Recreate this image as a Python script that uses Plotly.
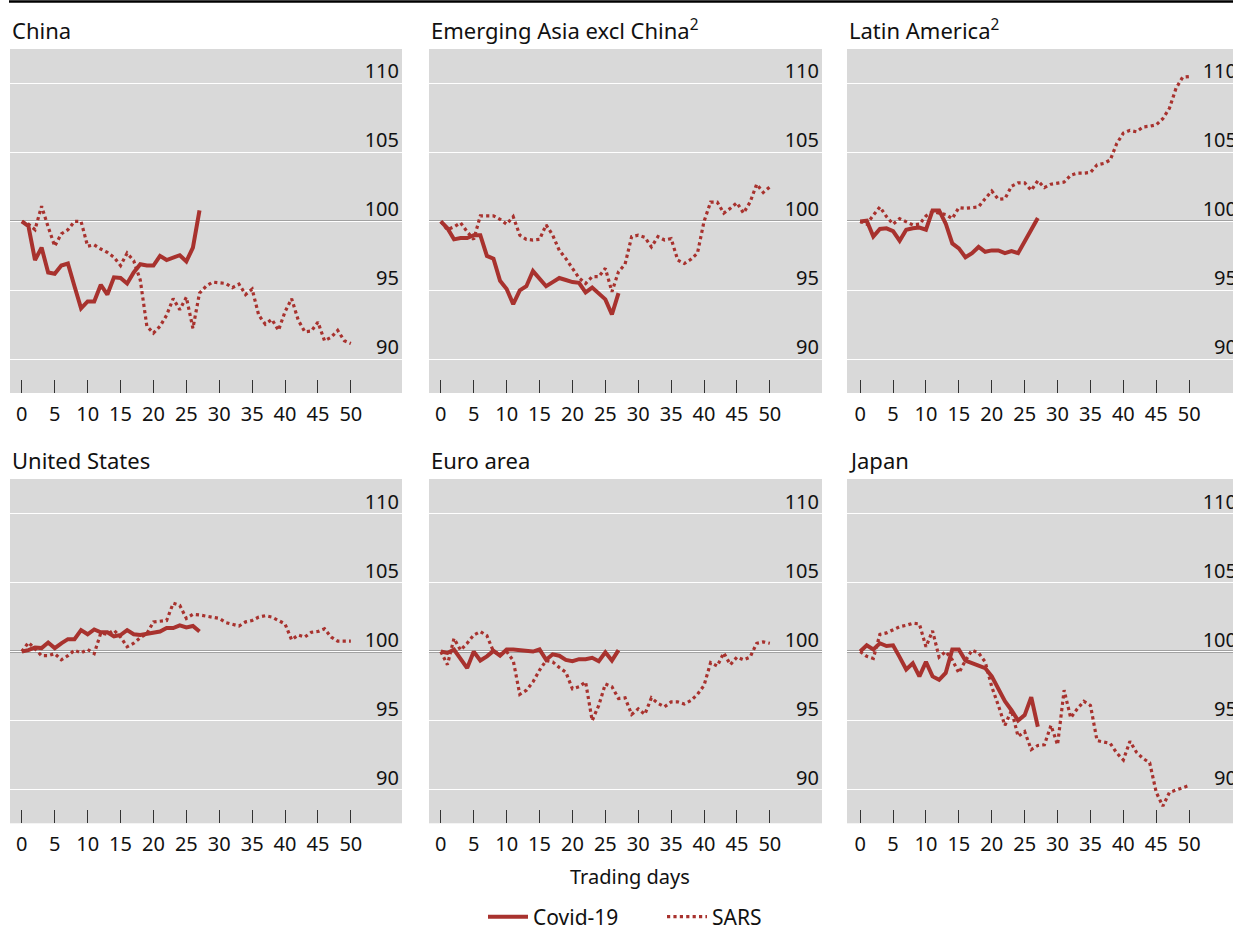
import plotly.graph_objects as go

# ---------------- data ----------------
days_covid = list(range(28))
days_sars = list(range(51))

titles = ["China", "Emerging Asia excl China<sup>2</sup>", "Latin America<sup>2</sup>",
          "United States", "Euro area", "Japan"]

china_covid = [100, 99.66, 97.2, 98.1, 96.3, 96.2, 96.8, 96.95, 95.3, 93.7, 94.2, 94.2, 95.4, 94.7,
               95.95, 95.9, 95.5, 96.3, 96.9, 96.8, 96.8, 97.5, 97.2, 97.4, 97.55, 97.1, 98.1, 100.8]
china_sars = [100, 99.8, 99.4, 101.1, 99.6, 98.2, 99.1, 99.4, 100, 100, 98.2, 98.3, 98.0, 97.75,
              97.4, 96.8, 97.7, 97.15, 95.75, 92.4, 91.9, 92.4, 93.2, 94.4, 93.6, 94.5, 92.25, 94.8,
              95.3, 95.6, 95.55, 95.5, 95.2, 95.45, 94.7, 95.1, 93.2, 92.55, 92.9, 92.1, 93.45,
              94.4, 92.85, 92.0, 92.05, 92.7, 91.35, 91.6, 92.1, 91.35, 91.15]

asia_covid = [100, 99.5, 98.7, 98.8, 98.8, 99.0, 99.0, 97.5, 97.3, 95.7, 95.1, 94.0, 95.0, 95.3,
              96.4, 95.9, 95.3, 95.6, 95.9, 95.75, 95.6, 95.55, 94.85, 95.2, 94.8, 94.35, 93.25, 94.8]
asia_sars = [100, 99.4, 99.6, 99.9, 99.25, 98.7, 100.4, 100.4, 100.4, 100.15, 99.8, 100.35, 99.0,
             98.7, 98.65, 98.7, 99.75, 99.0, 97.9, 97.3, 96.6, 95.9, 95.5, 96.0, 96.0, 96.6, 94.9,
             96.35, 96.9, 98.9, 99.0, 98.85, 98.15, 98.9, 98.65, 98.75, 97.2, 96.95, 97.25, 97.7,
             100, 101.4, 101.4, 100.6, 100.95, 101.35, 100.6, 101.4, 102.7, 102.1, 102.5]

latam_covid = [100, 100.05, 98.9, 99.45, 99.5, 99.3, 98.6, 99.4, 99.5, 99.55, 99.4, 100.8, 100.8,
               99.85, 98.4, 98.05, 97.4, 97.7, 98.15, 97.8, 97.9, 97.9, 97.7, 97.85, 97.7, 98.5,
               99.4, 100.25]
latam_sars = [100, 99.8, 100.45, 101.05, 100.35, 99.8, 100.2, 100, 99.75, 99.8, 100.4, 100.7, 100.6,
              100.5, 100.2, 101.0, 100.95, 101.0, 101.05, 101.65, 102.2, 101.6, 101.65, 102.55,
              102.8, 102.8, 102.25, 102.95, 102.45, 102.7, 102.8, 102.85, 103.35, 103.5, 103.5,
              103.55, 104.1, 104.2, 104.45, 105.65, 106.4, 106.6, 106.5, 106.85, 106.9, 107.0,
              107.45, 108.2, 109.65, 110.45, 110.5]

us_covid = [100, 100.1, 100.3, 100.25, 100.65, 100.25, 100.6, 100.9, 100.9, 101.55, 101.25, 101.6,
            101.4, 101.4, 101.1, 101.2, 101.55, 101.25, 101.2, 101.3, 101.4, 101.45, 101.7, 101.7,
            101.9, 101.75, 101.85, 101.45]
us_sars = [100, 100.65, 100.2, 99.7, 99.7, 99.85, 99.4, 99.7, 100.1, 99.9, 100.15, 99.85, 101.35,
           101.25, 101.55, 101.05, 100.35, 100.6, 101.0, 101.3, 102.15, 102.2, 102.25, 103.5, 103.35,
           102.4, 102.7, 102.65, 102.55, 102.45, 102.4, 102.1, 102.0, 101.85, 102.15, 102.25, 102.5,
           102.6, 102.5, 102.25, 102.0, 100.85, 101.2, 101.05, 101.4, 101.45, 101.65, 101.05,
           100.75, 100.75, 100.75]

euro_covid = [100, 99.9, 100.15, 99.5, 98.8, 100, 99.35, 99.65, 100.05, 99.7, 100.15, 100.15, 100.1,
              100.1, 100, 100.15, 99.4, 99.8, 99.7, 99.4, 99.3, 99.45, 99.45, 99.55, 99.3, 99.95,
              99.35, 100.1]
euro_sars = [100, 99.05, 100.95, 100.1, 100.6, 101.2, 101.45, 101.15, 100, 99.8, 100, 99.35, 96.9,
             97.2, 97.8, 98.65, 99.35, 99.25, 98.85, 98.5, 97.3, 97.45, 97.8, 95.0, 96.1, 97.65,
             97.45, 96.6, 96.65, 95.45, 95.85, 95.45, 96.65, 96.25, 96.0, 96.35, 96.35, 96.2, 96.45,
             96.9, 97.55, 99.2, 98.95, 99.9, 99.05, 99.6, 99.4, 99.6, 100.6, 100.7, 100.6]

japan_covid = [100, 100.45, 100.15, 100.6, 100.4, 100.45, 99.6, 98.7, 99.15, 98.2, 99.25, 98.2,
               97.95, 98.45, 100.15, 100.15, 99.35, 99.15, 98.95, 98.8, 98.2, 97.25, 96.4, 95.75,
               95.0, 95.4, 96.7, 94.55]
japan_sars = [100, 99.65, 99.5, 101.25, 101.35, 101.6, 101.8, 101.9, 102.05, 102.0, 100.35, 101.5,
              99.6, 100, 99.4, 98.45, 99.35, 100.1, 99.9, 99.25, 97.45, 96.1, 94.65, 95.75, 93.85,
              94.2, 92.9, 93.2, 93.25, 94.65, 93.25, 97.2, 95.2, 95.85, 96.4, 96.1, 93.55, 93.45,
              93.35, 92.65, 92.15, 93.5, 92.7, 92.25, 91.95, 89.8, 88.8, 89.8, 89.95, 90.15, 90.3]

covid_series = [china_covid, asia_covid, latam_covid, us_covid, euro_covid, japan_covid]
sars_series = [china_sars, asia_sars, latam_sars, us_sars, euro_sars, japan_sars]

BASE = 100
x_tick_step = 5
x_grid_step = 10
y_tick_step = 5

# ---------------- style / layout ----------------
W, H = 1233, 926
RED = "#a8322e"
BG = "#d9d9d9"
FONT = "Noto Sans"

col_px = [(10, 402), (429, 822), (847, 1233)]
row_px = [(49, 393), (479, 823.3)]
PXU = 6.58  # pixels per day
x_left = -1.8
y_range = [87.56, 112.5]

fig = go.Figure()

for i in range(6):
    r, c = divmod(i, 3)
    n = "" if i == 0 else str(i + 1)
    g = str(i + 7)
    x0p, x1p = col_px[c]
    y0p, y1p = row_px[r]
    xdom = [x0p / W, x1p / W]
    ydom = [1 - y1p / H, 1 - y0p / H]
    xl = x_left if c < 2 else -2.0
    x_right = xl + (x1p - x0p) / PXU

    fig.add_trace(go.Scatter(x=days_sars, y=sars_series[i], mode="lines", name="SARS",
                             line=dict(color=RED, width=3.2, dash="dot"),
                             showlegend=False, xaxis="x" + n, yaxis="y" + n, hoverinfo="skip"))
    fig.add_trace(go.Scatter(x=days_covid, y=covid_series[i], mode="lines", name="Covid-19",
                             line=dict(color=RED, width=4),
                             showlegend=False, xaxis="x" + n, yaxis="y" + n, hoverinfo="skip"))

    fig.layout["xaxis" + n] = dict(domain=xdom, range=[xl, x_right], anchor="y" + n,
                                   tickmode="linear", tick0=0, dtick=x_tick_step,
                                   ticks="inside", ticklen=13, tickwidth=1.4, tickcolor="#333333",
                                   showgrid=False, zeroline=False, showline=False,
                                   ticklabelstandoff=7,
                                   tickfont=dict(size=20, color="#111111"), fixedrange=True)
    fig.layout["xaxis" + g] = dict(overlaying="x" + n, range=[xl, x_right], anchor="y" + n,
                                   tickmode="linear", tick0=0, dtick=x_grid_step,
                                   showgrid=True, gridcolor="white", gridwidth=1.3,
                                   showticklabels=False, ticks="", zeroline=False, showline=False,
                                   fixedrange=True)
    fig.layout["yaxis" + n] = dict(domain=ydom, range=y_range, anchor="x" + n, side="right",
                                   ticklabelposition="inside", tickmode="linear", tick0=90,
                                   dtick=y_tick_step, showgrid=True, gridcolor="white",
                                   gridwidth=1.3, zeroline=False, showline=False, ticks="",
                                   ticklabelshift=-12,
                                   ticklabelstandoff=(0 if c < 2 else -7),
                                   tickfont=dict(size=20, color="#111111"), fixedrange=True)
    fig.add_shape(type="line", xref="x" + n + " domain", yref="y" + n, x0=0, x1=1,
                  y0=BASE, y1=BASE, line=dict(color="black", width=1.4), layer="below")
    fig.add_annotation(text=titles[i], xref="paper", yref="paper", x=x0p / W, xanchor="left",
                       y=1 - (y0p - 19) / H, yanchor="middle", showarrow=False,
                       font=dict(size=22, color="#111111"))

# legend entries
fig.add_trace(go.Scatter(x=[None], y=[None], mode="lines", name="Covid-19",
                         line=dict(color=RED, width=4), showlegend=True))
fig.add_trace(go.Scatter(x=[None], y=[None], mode="lines", name="SARS",
                         line=dict(color=RED, width=3.2, dash="dot"), showlegend=True))

fig.add_annotation(text="Trading days", xref="paper", yref="paper", x=630 / W, y=1 - 876 / H,
                   xanchor="center", yanchor="middle", showarrow=False,
                   font=dict(size=20, color="#111111"))

fig.add_shape(type="line", xref="paper", yref="paper", x0=9 / W, x1=1, y0=1 - 1.5 / H,
              y1=1 - 1.5 / H, line=dict(color="black", width=2.5))

fig.update_layout(width=W, height=H,
                  margin=dict(l=0, r=0, t=0, b=0, autoexpand=False),
                  paper_bgcolor="white", plot_bgcolor=BG,
                  font=dict(family=FONT, size=20, color="#111111"),
                  legend=dict(orientation="h", x=483 / W, xanchor="left", y=1 - 917 / H,
                              yanchor="middle", font=dict(size=21), bgcolor="rgba(0,0,0,0)",
                              entrywidth=124, entrywidthmode="pixels",
                              itemwidth=40, tracegroupgap=0),
                  showlegend=True)

fig.write_html("out.html", config={"displayModeBar": False},
               post_script="document.body.style.margin='0';document.body.style.overflow='hidden';")
